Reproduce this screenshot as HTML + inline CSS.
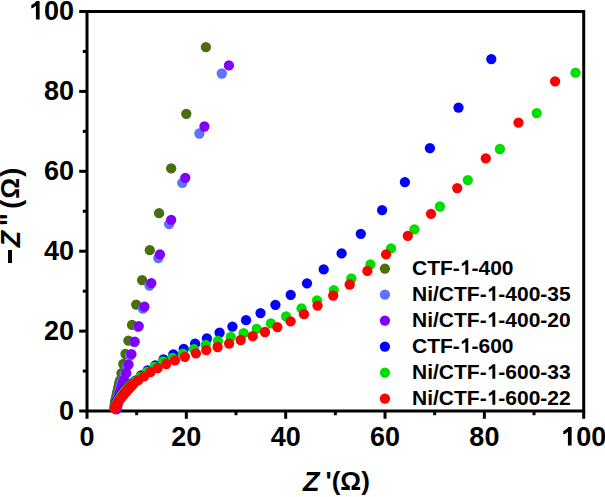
<!DOCTYPE html>
<html><head><meta charset="utf-8"><style>
html,body{margin:0;padding:0;background:#fff;}
body{width:605px;height:497px;position:relative;overflow:hidden;font-family:"Liberation Sans",sans-serif;}
svg.plot{position:absolute;left:0;top:0;}
.one{display:inline-block;width:0.55615em;height:1em;vertical-align:-0.2em;}
.tl{position:absolute;font-weight:bold;font-size:27px;line-height:normal;white-space:nowrap;color:#000;}
.lg{position:absolute;font-weight:bold;font-size:21px;line-height:normal;white-space:nowrap;color:#000;}
.xt{position:absolute;font-weight:bold;font-size:27px;white-space:nowrap;}
.yt{position:absolute;left:0;top:0;font-weight:bold;font-size:27px;white-space:nowrap;transform-origin:0 0;}
</style></head><body>
<svg class="plot" width="605" height="497" viewBox="0 0 605 497">
<rect x="87.0" y="11.5" width="496.70000000000005" height="399.5" fill="none" stroke="#000" stroke-width="3"/><line x1="87.00" y1="411.0" x2="87.00" y2="418.8" stroke="#000" stroke-width="3"/><line x1="87.0" y1="411.00" x2="79.2" y2="411.00" stroke="#000" stroke-width="3"/><line x1="136.67" y1="411.0" x2="136.67" y2="415.2" stroke="#000" stroke-width="3"/><line x1="87.0" y1="371.05" x2="82.8" y2="371.05" stroke="#000" stroke-width="3"/><line x1="186.34" y1="411.0" x2="186.34" y2="418.8" stroke="#000" stroke-width="3"/><line x1="87.0" y1="331.10" x2="79.2" y2="331.10" stroke="#000" stroke-width="3"/><line x1="236.01" y1="411.0" x2="236.01" y2="415.2" stroke="#000" stroke-width="3"/><line x1="87.0" y1="291.15" x2="82.8" y2="291.15" stroke="#000" stroke-width="3"/><line x1="285.68" y1="411.0" x2="285.68" y2="418.8" stroke="#000" stroke-width="3"/><line x1="87.0" y1="251.20" x2="79.2" y2="251.20" stroke="#000" stroke-width="3"/><line x1="335.35" y1="411.0" x2="335.35" y2="415.2" stroke="#000" stroke-width="3"/><line x1="87.0" y1="211.25" x2="82.8" y2="211.25" stroke="#000" stroke-width="3"/><line x1="385.02" y1="411.0" x2="385.02" y2="418.8" stroke="#000" stroke-width="3"/><line x1="87.0" y1="171.30" x2="79.2" y2="171.30" stroke="#000" stroke-width="3"/><line x1="434.69" y1="411.0" x2="434.69" y2="415.2" stroke="#000" stroke-width="3"/><line x1="87.0" y1="131.35" x2="82.8" y2="131.35" stroke="#000" stroke-width="3"/><line x1="484.36" y1="411.0" x2="484.36" y2="418.8" stroke="#000" stroke-width="3"/><line x1="87.0" y1="91.40" x2="79.2" y2="91.40" stroke="#000" stroke-width="3"/><line x1="534.03" y1="411.0" x2="534.03" y2="415.2" stroke="#000" stroke-width="3"/><line x1="87.0" y1="51.45" x2="82.8" y2="51.45" stroke="#000" stroke-width="3"/><line x1="583.70" y1="411.0" x2="583.70" y2="418.8" stroke="#000" stroke-width="3"/><line x1="87.0" y1="11.50" x2="79.2" y2="11.50" stroke="#000" stroke-width="3"/><circle cx="205.9" cy="47.1" r="5.15" fill="#4a6e0c"/><circle cx="186.3" cy="113.8" r="5.15" fill="#4a6e0c"/><circle cx="171.2" cy="168.4" r="5.15" fill="#4a6e0c"/><circle cx="159.1" cy="213.2" r="5.15" fill="#4a6e0c"/><circle cx="149.8" cy="250.2" r="5.15" fill="#4a6e0c"/><circle cx="142.1" cy="280.1" r="5.15" fill="#4a6e0c"/><circle cx="136.2" cy="304.6" r="5.15" fill="#4a6e0c"/><circle cx="132.0" cy="324.9" r="5.15" fill="#4a6e0c"/><circle cx="128.4" cy="340.7" r="5.15" fill="#4a6e0c"/><circle cx="125.5" cy="354.0" r="5.15" fill="#4a6e0c"/><circle cx="123.3" cy="364.0" r="5.15" fill="#4a6e0c"/><circle cx="121.5" cy="373.2" r="5.15" fill="#4a6e0c"/><circle cx="120.0" cy="380.5" r="5.15" fill="#4a6e0c"/><circle cx="119.7" cy="381.9" r="5.15" fill="#4a6e0c"/><circle cx="119.4" cy="383.3" r="5.15" fill="#4a6e0c"/><circle cx="119.1" cy="384.7" r="5.15" fill="#4a6e0c"/><circle cx="118.8" cy="386.1" r="5.15" fill="#4a6e0c"/><circle cx="118.5" cy="387.5" r="5.15" fill="#4a6e0c"/><circle cx="118.2" cy="388.8" r="5.15" fill="#4a6e0c"/><circle cx="117.9" cy="390.0" r="5.15" fill="#4a6e0c"/><circle cx="117.7" cy="391.2" r="5.15" fill="#4a6e0c"/><circle cx="117.4" cy="392.5" r="5.15" fill="#4a6e0c"/><circle cx="117.1" cy="393.8" r="5.15" fill="#4a6e0c"/><circle cx="116.8" cy="395.0" r="5.15" fill="#4a6e0c"/><circle cx="116.5" cy="396.4" r="5.15" fill="#4a6e0c"/><circle cx="116.2" cy="397.8" r="5.15" fill="#4a6e0c"/><circle cx="115.8" cy="399.2" r="5.15" fill="#4a6e0c"/><circle cx="115.5" cy="400.6" r="5.15" fill="#4a6e0c"/><circle cx="115.2" cy="402.0" r="5.15" fill="#4a6e0c"/><circle cx="115.1" cy="403.3" r="5.15" fill="#4a6e0c"/><circle cx="114.9" cy="404.5" r="5.15" fill="#4a6e0c"/><circle cx="114.8" cy="405.8" r="5.15" fill="#4a6e0c"/><circle cx="114.6" cy="407.0" r="5.15" fill="#4a6e0c"/><circle cx="114.5" cy="408.3" r="5.15" fill="#4a6e0c"/><circle cx="221.8" cy="73.5" r="5.15" fill="#6070ff"/><circle cx="199.4" cy="133.5" r="5.15" fill="#6070ff"/><circle cx="182.3" cy="182.8" r="5.15" fill="#6070ff"/><circle cx="169.1" cy="224.2" r="5.15" fill="#6070ff"/><circle cx="158.3" cy="258.0" r="5.15" fill="#6070ff"/><circle cx="149.5" cy="285.5" r="5.15" fill="#6070ff"/><circle cx="142.9" cy="308.7" r="5.15" fill="#6070ff"/><circle cx="138.0" cy="326.9" r="5.15" fill="#6070ff"/><circle cx="134.2" cy="342.2" r="5.15" fill="#6070ff"/><circle cx="130.0" cy="355.5" r="5.15" fill="#6070ff"/><circle cx="127.2" cy="365.8" r="5.15" fill="#6070ff"/><circle cx="124.6" cy="374.5" r="5.15" fill="#6070ff"/><circle cx="122.2" cy="381.2" r="5.15" fill="#6070ff"/><circle cx="121.8" cy="382.6" r="5.15" fill="#6070ff"/><circle cx="121.4" cy="384.0" r="5.15" fill="#6070ff"/><circle cx="121.1" cy="385.5" r="5.15" fill="#6070ff"/><circle cx="120.7" cy="386.9" r="5.15" fill="#6070ff"/><circle cx="120.3" cy="388.3" r="5.15" fill="#6070ff"/><circle cx="119.9" cy="389.7" r="5.15" fill="#6070ff"/><circle cx="119.6" cy="391.2" r="5.15" fill="#6070ff"/><circle cx="119.2" cy="392.6" r="5.15" fill="#6070ff"/><circle cx="118.8" cy="394.0" r="5.15" fill="#6070ff"/><circle cx="118.4" cy="395.4" r="5.15" fill="#6070ff"/><circle cx="118.0" cy="396.9" r="5.15" fill="#6070ff"/><circle cx="117.7" cy="398.4" r="5.15" fill="#6070ff"/><circle cx="117.3" cy="399.8" r="5.15" fill="#6070ff"/><circle cx="116.9" cy="401.2" r="5.15" fill="#6070ff"/><circle cx="116.5" cy="402.7" r="5.15" fill="#6070ff"/><circle cx="116.1" cy="404.1" r="5.15" fill="#6070ff"/><circle cx="115.8" cy="405.6" r="5.15" fill="#6070ff"/><circle cx="115.4" cy="407.1" r="5.15" fill="#6070ff"/><circle cx="115.0" cy="408.5" r="5.15" fill="#6070ff"/><circle cx="228.9" cy="65.4" r="5.15" fill="#7f00ff"/><circle cx="204.4" cy="126.5" r="5.15" fill="#7f00ff"/><circle cx="185.3" cy="177.8" r="5.15" fill="#7f00ff"/><circle cx="171.2" cy="219.8" r="5.15" fill="#7f00ff"/><circle cx="159.9" cy="254.4" r="5.15" fill="#7f00ff"/><circle cx="151.3" cy="283.1" r="5.15" fill="#7f00ff"/><circle cx="144.4" cy="306.7" r="5.15" fill="#7f00ff"/><circle cx="138.7" cy="326.1" r="5.15" fill="#7f00ff"/><circle cx="134.7" cy="341.6" r="5.15" fill="#7f00ff"/><circle cx="131.4" cy="354.2" r="5.15" fill="#7f00ff"/><circle cx="128.5" cy="364.6" r="5.15" fill="#7f00ff"/><circle cx="126.3" cy="373.2" r="5.15" fill="#7f00ff"/><circle cx="124.0" cy="380.0" r="5.15" fill="#7f00ff"/><circle cx="123.6" cy="381.4" r="5.15" fill="#7f00ff"/><circle cx="123.2" cy="382.7" r="5.15" fill="#7f00ff"/><circle cx="122.8" cy="384.1" r="5.15" fill="#7f00ff"/><circle cx="122.4" cy="385.5" r="5.15" fill="#7f00ff"/><circle cx="122.0" cy="386.8" r="5.15" fill="#7f00ff"/><circle cx="121.5" cy="388.2" r="5.15" fill="#7f00ff"/><circle cx="121.1" cy="389.5" r="5.15" fill="#7f00ff"/><circle cx="120.7" cy="390.9" r="5.15" fill="#7f00ff"/><circle cx="120.3" cy="392.3" r="5.15" fill="#7f00ff"/><circle cx="119.9" cy="393.6" r="5.15" fill="#7f00ff"/><circle cx="119.5" cy="395.0" r="5.15" fill="#7f00ff"/><circle cx="119.2" cy="396.4" r="5.15" fill="#7f00ff"/><circle cx="118.9" cy="397.9" r="5.15" fill="#7f00ff"/><circle cx="118.6" cy="399.3" r="5.15" fill="#7f00ff"/><circle cx="118.3" cy="400.7" r="5.15" fill="#7f00ff"/><circle cx="118.0" cy="402.1" r="5.15" fill="#7f00ff"/><circle cx="117.7" cy="403.6" r="5.15" fill="#7f00ff"/><circle cx="117.4" cy="405.0" r="5.15" fill="#7f00ff"/><circle cx="117.1" cy="406.4" r="5.15" fill="#7f00ff"/><circle cx="116.8" cy="407.9" r="5.15" fill="#7f00ff"/><circle cx="116.5" cy="409.3" r="5.15" fill="#7f00ff"/><circle cx="491.3" cy="59.1" r="5.15" fill="#0000ff"/><circle cx="458.5" cy="107.6" r="5.15" fill="#0000ff"/><circle cx="429.9" cy="148.2" r="5.15" fill="#0000ff"/><circle cx="404.9" cy="182.1" r="5.15" fill="#0000ff"/><circle cx="382.1" cy="210.1" r="5.15" fill="#0000ff"/><circle cx="360.8" cy="233.8" r="5.15" fill="#0000ff"/><circle cx="341.6" cy="253.3" r="5.15" fill="#0000ff"/><circle cx="323.7" cy="269.4" r="5.15" fill="#0000ff"/><circle cx="307.0" cy="283.3" r="5.15" fill="#0000ff"/><circle cx="290.7" cy="294.9" r="5.15" fill="#0000ff"/><circle cx="275.4" cy="304.8" r="5.15" fill="#0000ff"/><circle cx="260.5" cy="313.1" r="5.15" fill="#0000ff"/><circle cx="246.1" cy="320.2" r="5.15" fill="#0000ff"/><circle cx="232.4" cy="326.6" r="5.15" fill="#0000ff"/><circle cx="219.6" cy="332.7" r="5.15" fill="#0000ff"/><circle cx="206.9" cy="338.5" r="5.15" fill="#0000ff"/><circle cx="195.1" cy="343.7" r="5.15" fill="#0000ff"/><circle cx="183.7" cy="348.9" r="5.15" fill="#0000ff"/><circle cx="173.3" cy="354.5" r="5.15" fill="#0000ff"/><circle cx="163.5" cy="359.5" r="5.15" fill="#0000ff"/><circle cx="155.3" cy="365.5" r="5.15" fill="#0000ff"/><circle cx="147.6" cy="370.5" r="5.15" fill="#0000ff"/><circle cx="141.1" cy="375.5" r="5.15" fill="#0000ff"/><circle cx="135.9" cy="380.3" r="5.15" fill="#0000ff"/><circle cx="134.8" cy="381.3" r="5.15" fill="#0000ff"/><circle cx="133.7" cy="382.2" r="5.15" fill="#0000ff"/><circle cx="132.6" cy="383.2" r="5.15" fill="#0000ff"/><circle cx="131.5" cy="384.2" r="5.15" fill="#0000ff"/><circle cx="130.4" cy="385.1" r="5.15" fill="#0000ff"/><circle cx="129.3" cy="386.1" r="5.15" fill="#0000ff"/><circle cx="128.2" cy="387.1" r="5.15" fill="#0000ff"/><circle cx="127.1" cy="388.0" r="5.15" fill="#0000ff"/><circle cx="126.0" cy="389.0" r="5.15" fill="#0000ff"/><circle cx="125.2" cy="390.0" r="5.15" fill="#0000ff"/><circle cx="124.3" cy="391.0" r="5.15" fill="#0000ff"/><circle cx="123.5" cy="392.0" r="5.15" fill="#0000ff"/><circle cx="122.7" cy="393.0" r="5.15" fill="#0000ff"/><circle cx="121.8" cy="394.0" r="5.15" fill="#0000ff"/><circle cx="121.0" cy="395.0" r="5.15" fill="#0000ff"/><circle cx="120.2" cy="396.2" r="5.15" fill="#0000ff"/><circle cx="119.4" cy="397.4" r="5.15" fill="#0000ff"/><circle cx="118.6" cy="398.6" r="5.15" fill="#0000ff"/><circle cx="117.8" cy="399.8" r="5.15" fill="#0000ff"/><circle cx="117.0" cy="401.0" r="5.15" fill="#0000ff"/><circle cx="116.6" cy="402.4" r="5.15" fill="#0000ff"/><circle cx="116.2" cy="403.8" r="5.15" fill="#0000ff"/><circle cx="115.8" cy="405.2" r="5.15" fill="#0000ff"/><circle cx="115.4" cy="406.6" r="5.15" fill="#0000ff"/><circle cx="115.0" cy="408.0" r="5.15" fill="#0000ff"/><circle cx="575.5" cy="72.7" r="5.15" fill="#00dd00"/><circle cx="536.7" cy="113.1" r="5.15" fill="#00dd00"/><circle cx="499.9" cy="149.0" r="5.15" fill="#00dd00"/><circle cx="467.8" cy="180.1" r="5.15" fill="#00dd00"/><circle cx="439.9" cy="206.5" r="5.15" fill="#00dd00"/><circle cx="414.4" cy="229.3" r="5.15" fill="#00dd00"/><circle cx="391.1" cy="248.3" r="5.15" fill="#00dd00"/><circle cx="370.4" cy="264.4" r="5.15" fill="#00dd00"/><circle cx="351.3" cy="278.5" r="5.15" fill="#00dd00"/><circle cx="333.8" cy="290.1" r="5.15" fill="#00dd00"/><circle cx="317.0" cy="300.3" r="5.15" fill="#00dd00"/><circle cx="301.5" cy="308.4" r="5.15" fill="#00dd00"/><circle cx="286.1" cy="316.4" r="5.15" fill="#00dd00"/><circle cx="270.9" cy="323.3" r="5.15" fill="#00dd00"/><circle cx="256.7" cy="328.8" r="5.15" fill="#00dd00"/><circle cx="243.6" cy="333.2" r="5.15" fill="#00dd00"/><circle cx="230.7" cy="337.0" r="5.15" fill="#00dd00"/><circle cx="217.9" cy="340.8" r="5.15" fill="#00dd00"/><circle cx="205.7" cy="344.9" r="5.15" fill="#00dd00"/><circle cx="193.9" cy="349.2" r="5.15" fill="#00dd00"/><circle cx="182.9" cy="353.6" r="5.15" fill="#00dd00"/><circle cx="172.5" cy="358.0" r="5.15" fill="#00dd00"/><circle cx="162.9" cy="361.5" r="5.15" fill="#00dd00"/><circle cx="154.5" cy="367.0" r="5.15" fill="#00dd00"/><circle cx="147.0" cy="372.0" r="5.15" fill="#00dd00"/><circle cx="140.5" cy="377.0" r="5.15" fill="#00dd00"/><circle cx="135.0" cy="381.5" r="5.15" fill="#00dd00"/><circle cx="133.9" cy="382.5" r="5.15" fill="#00dd00"/><circle cx="132.9" cy="383.5" r="5.15" fill="#00dd00"/><circle cx="131.8" cy="384.5" r="5.15" fill="#00dd00"/><circle cx="130.8" cy="385.5" r="5.15" fill="#00dd00"/><circle cx="129.7" cy="386.5" r="5.15" fill="#00dd00"/><circle cx="128.6" cy="387.5" r="5.15" fill="#00dd00"/><circle cx="127.6" cy="388.5" r="5.15" fill="#00dd00"/><circle cx="126.5" cy="389.5" r="5.15" fill="#00dd00"/><circle cx="125.7" cy="390.5" r="5.15" fill="#00dd00"/><circle cx="124.8" cy="391.5" r="5.15" fill="#00dd00"/><circle cx="124.0" cy="392.5" r="5.15" fill="#00dd00"/><circle cx="123.2" cy="393.5" r="5.15" fill="#00dd00"/><circle cx="122.3" cy="394.5" r="5.15" fill="#00dd00"/><circle cx="121.5" cy="395.5" r="5.15" fill="#00dd00"/><circle cx="120.7" cy="396.7" r="5.15" fill="#00dd00"/><circle cx="119.9" cy="397.9" r="5.15" fill="#00dd00"/><circle cx="119.1" cy="399.1" r="5.15" fill="#00dd00"/><circle cx="118.3" cy="400.3" r="5.15" fill="#00dd00"/><circle cx="117.5" cy="401.5" r="5.15" fill="#00dd00"/><circle cx="117.0" cy="402.8" r="5.15" fill="#00dd00"/><circle cx="116.5" cy="404.1" r="5.15" fill="#00dd00"/><circle cx="116.0" cy="405.4" r="5.15" fill="#00dd00"/><circle cx="115.5" cy="406.7" r="5.15" fill="#00dd00"/><circle cx="115.0" cy="408.0" r="5.15" fill="#00dd00"/><circle cx="555.1" cy="81.3" r="5.15" fill="#ff0000"/><circle cx="518.5" cy="122.7" r="5.15" fill="#ff0000"/><circle cx="485.8" cy="158.3" r="5.15" fill="#ff0000"/><circle cx="457.2" cy="188.1" r="5.15" fill="#ff0000"/><circle cx="431.0" cy="213.8" r="5.15" fill="#ff0000"/><circle cx="407.8" cy="235.8" r="5.15" fill="#ff0000"/><circle cx="386.1" cy="254.3" r="5.15" fill="#ff0000"/><circle cx="367.4" cy="270.8" r="5.15" fill="#ff0000"/><circle cx="349.7" cy="284.5" r="5.15" fill="#ff0000"/><circle cx="333.2" cy="295.6" r="5.15" fill="#ff0000"/><circle cx="317.5" cy="305.6" r="5.15" fill="#ff0000"/><circle cx="304.0" cy="314.2" r="5.15" fill="#ff0000"/><circle cx="290.6" cy="321.3" r="5.15" fill="#ff0000"/><circle cx="277.4" cy="327.1" r="5.15" fill="#ff0000"/><circle cx="265.0" cy="332.0" r="5.15" fill="#ff0000"/><circle cx="252.7" cy="336.2" r="5.15" fill="#ff0000"/><circle cx="240.7" cy="340.0" r="5.15" fill="#ff0000"/><circle cx="229.1" cy="343.6" r="5.15" fill="#ff0000"/><circle cx="217.6" cy="347.0" r="5.15" fill="#ff0000"/><circle cx="206.3" cy="350.1" r="5.15" fill="#ff0000"/><circle cx="195.9" cy="353.3" r="5.15" fill="#ff0000"/><circle cx="184.9" cy="356.8" r="5.15" fill="#ff0000"/><circle cx="175.0" cy="360.3" r="5.15" fill="#ff0000"/><circle cx="166.2" cy="364.0" r="5.15" fill="#ff0000"/><circle cx="157.6" cy="368.1" r="5.15" fill="#ff0000"/><circle cx="150.4" cy="372.2" r="5.15" fill="#ff0000"/><circle cx="144.0" cy="376.3" r="5.15" fill="#ff0000"/><circle cx="138.1" cy="380.3" r="5.15" fill="#ff0000"/><circle cx="133.2" cy="384.0" r="5.15" fill="#ff0000"/><circle cx="132.2" cy="385.0" r="5.15" fill="#ff0000"/><circle cx="131.3" cy="386.0" r="5.15" fill="#ff0000"/><circle cx="130.3" cy="387.0" r="5.15" fill="#ff0000"/><circle cx="129.4" cy="388.0" r="5.15" fill="#ff0000"/><circle cx="128.4" cy="389.0" r="5.15" fill="#ff0000"/><circle cx="127.5" cy="390.0" r="5.15" fill="#ff0000"/><circle cx="126.6" cy="391.1" r="5.15" fill="#ff0000"/><circle cx="125.7" cy="392.2" r="5.15" fill="#ff0000"/><circle cx="124.8" cy="393.2" r="5.15" fill="#ff0000"/><circle cx="123.8" cy="394.3" r="5.15" fill="#ff0000"/><circle cx="122.9" cy="395.4" r="5.15" fill="#ff0000"/><circle cx="122.0" cy="396.5" r="5.15" fill="#ff0000"/><circle cx="121.2" cy="397.6" r="5.15" fill="#ff0000"/><circle cx="120.4" cy="398.7" r="5.15" fill="#ff0000"/><circle cx="119.6" cy="399.8" r="5.15" fill="#ff0000"/><circle cx="118.8" cy="400.9" r="5.15" fill="#ff0000"/><circle cx="118.0" cy="402.0" r="5.15" fill="#ff0000"/><circle cx="117.4" cy="403.3" r="5.15" fill="#ff0000"/><circle cx="116.8" cy="404.6" r="5.15" fill="#ff0000"/><circle cx="116.2" cy="405.8" r="5.15" fill="#ff0000"/><circle cx="115.6" cy="407.1" r="5.15" fill="#ff0000"/><circle cx="115.0" cy="408.4" r="5.15" fill="#ff0000"/><circle cx="384.9" cy="268.6" r="5.15" fill="#4a6e0c"/><circle cx="384.9" cy="294.6" r="5.15" fill="#6070ff"/><circle cx="384.9" cy="320.6" r="5.15" fill="#7f00ff"/><circle cx="384.9" cy="346.6" r="5.15" fill="#0000ff"/><circle cx="384.9" cy="372.6" r="5.15" fill="#00dd00"/><circle cx="384.9" cy="398.6" r="5.15" fill="#ff0000"/>
</svg>
<div class="tl" style="left:-13.0px;top:421.6px;width:200px;text-align:center">0</div><div class="tl" style="left:-126px;top:395.6px;width:200px;text-align:right">0</div><div class="tl" style="left:86.3px;top:421.6px;width:200px;text-align:center">20</div><div class="tl" style="left:-126px;top:315.6px;width:200px;text-align:right">20</div><div class="tl" style="left:185.7px;top:421.6px;width:200px;text-align:center">40</div><div class="tl" style="left:-126px;top:235.6px;width:200px;text-align:right">40</div><div class="tl" style="left:285.0px;top:421.6px;width:200px;text-align:center">60</div><div class="tl" style="left:-126px;top:155.6px;width:200px;text-align:right">60</div><div class="tl" style="left:384.4px;top:421.6px;width:200px;text-align:center">80</div><div class="tl" style="left:-126px;top:75.6px;width:200px;text-align:right">80</div><div class="tl" style="left:483.7px;top:421.6px;width:200px;text-align:center"><svg class="one" viewBox="0 -1638 1139 2048"><path transform="scale(1,-1)" d="M806 0H525V1059Q371 915 175 846V1101Q282 1141 401 1241Q520 1341 566 1409H806Z"/></svg>00</div><div class="tl" style="left:-126px;top:-4.4px;width:200px;text-align:right"><svg class="one" viewBox="0 -1638 1139 2048"><path transform="scale(1,-1)" d="M806 0H525V1059Q371 915 175 846V1101Q282 1141 401 1241Q520 1341 566 1409H806Z"/></svg>00</div><div class="lg" style="left:412px;top:256px">CTF-<svg class="one" viewBox="0 -1638 1139 2048"><path transform="scale(1,-1)" d="M806 0H525V1059Q371 915 175 846V1101Q282 1141 401 1241Q520 1341 566 1409H806Z"/></svg>-400</div><div class="lg" style="left:412px;top:282px">Ni/CTF-<svg class="one" viewBox="0 -1638 1139 2048"><path transform="scale(1,-1)" d="M806 0H525V1059Q371 915 175 846V1101Q282 1141 401 1241Q520 1341 566 1409H806Z"/></svg>-400-35</div><div class="lg" style="left:412px;top:308px">Ni/CTF-<svg class="one" viewBox="0 -1638 1139 2048"><path transform="scale(1,-1)" d="M806 0H525V1059Q371 915 175 846V1101Q282 1141 401 1241Q520 1341 566 1409H806Z"/></svg>-400-20</div><div class="lg" style="left:412px;top:334px">CTF-<svg class="one" viewBox="0 -1638 1139 2048"><path transform="scale(1,-1)" d="M806 0H525V1059Q371 915 175 846V1101Q282 1141 401 1241Q520 1341 566 1409H806Z"/></svg>-600</div><div class="lg" style="left:412px;top:360px">Ni/CTF-<svg class="one" viewBox="0 -1638 1139 2048"><path transform="scale(1,-1)" d="M806 0H525V1059Q371 915 175 846V1101Q282 1141 401 1241Q520 1341 566 1409H806Z"/></svg>-600-33</div><div class="lg" style="left:412px;top:386px">Ni/CTF-<svg class="one" viewBox="0 -1638 1139 2048"><path transform="scale(1,-1)" d="M806 0H525V1059Q371 915 175 846V1101Q282 1141 401 1241Q520 1341 566 1409H806Z"/></svg>-600-22</div>
<div style="position:absolute;left:7.8px;top:249.6px;width:4px;height:13.9px;background:#000"></div>
<div class="xt" style="left:303px;top:466.7px"><i>Z</i></div><div class="xt" style="left:325.5px;top:466.3px;font-size:26px">'(Ω)</div>
<div class="yt" style="transform:translate(0px,264px) rotate(-90deg)">
<span style="position:absolute;left:16.8px;top:-4.5px;font-style:italic">Z</span>
<span style="position:absolute;left:38.2px;top:-5px;letter-spacing:-0.5px">''</span>
<span style="position:absolute;left:55.3px;top:-4px">(</span>
<span style="position:absolute;left:65.3px;top:-5.5px;font-size:26px">Ω</span>
<span style="position:absolute;left:87.3px;top:-4px">)</span>
</div>
</body></html>
